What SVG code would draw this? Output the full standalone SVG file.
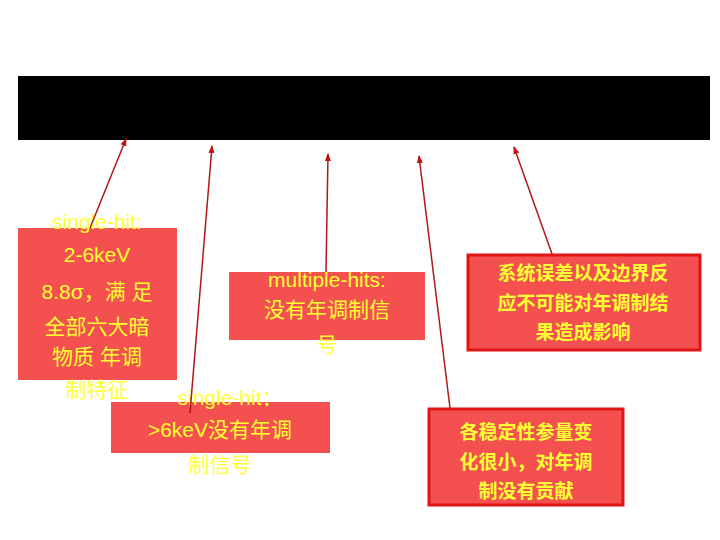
<svg xmlns="http://www.w3.org/2000/svg" width="720" height="540" viewBox="0 0 720 540">
<style>
.box{fill:#f55050}
.bb{fill:#f55050;stroke:#e01515;stroke-width:3}
.t{font-family:"Liberation Sans","Noto Sans CJK SC",sans-serif;font-size:21px;fill:#ffff33;text-anchor:middle}
.b{font-family:"Noto Sans CJK SC",sans-serif;font-size:19px;font-weight:bold;fill:#ffff33;text-anchor:middle}
.c line{stroke:#b01818;stroke-width:1.5;marker-end:url(#a)}
</style>
<defs><marker id="a" markerWidth="8" markerHeight="8" refX="7" refY="4" orient="auto" markerUnits="userSpaceOnUse"><path d="M0,1L8,4L0,7z" fill="#c01010"/></marker></defs>
<rect width="720" height="540" fill="#fff"/>
<rect x="18" y="76" width="692" height="64" fill="#000"/>
<g id="n1"><rect class="box" x="18" y="228" width="159" height="152"/>
<text class="t" x="97" y="229">single-hit:</text><text class="t" x="97" y="262">2-6keV</text><text class="t" x="97" y="299">8.8σ，满 足</text><text class="t" x="97" y="334">全部六大暗</text><text class="t" x="97" y="364">物质 年调</text><text class="t" x="97" y="397">制特征</text></g>
<g id="n2"><rect class="box" x="229" y="272" width="196" height="68"/>
<text class="t" x="327" y="287">multiple-hits:</text><text class="t" x="327" y="317">没有年调制信</text><text class="t" x="327" y="352">号</text></g>
<g id="n3"><rect class="box" x="111" y="402" width="219" height="51"/>
<text class="t" x="230" y="405">single-hit：</text><text class="t" x="220" y="437">&gt;6keV没有年调</text><text class="t" x="220" y="472">制信号</text></g>
<g id="n4"><rect class="bb" x="468" y="255" width="232" height="95"/>
<text class="b" x="583" y="280">系统误差以及边界反</text><text class="b" x="583" y="310">应不可能对年调制结</text><text class="b" x="583" y="339">果造成影响</text></g>
<g id="n5"><rect class="bb" x="429" y="409" width="194" height="96"/>
<text class="b" x="526" y="439">各稳定性参量变</text><text class="b" x="526" y="469">化很小，对年调</text><text class="b" x="526" y="498">制没有贡献</text></g>
<g class="c">
<line x1="90" y1="228" x2="126" y2="139"/>
<line x1="190" y1="413" x2="212" y2="146"/>
<line x1="326" y1="272" x2="328" y2="154"/>
<line x1="450" y1="408" x2="419" y2="156"/>
<line x1="552" y1="254" x2="514" y2="147"/>
</g>
</svg>
